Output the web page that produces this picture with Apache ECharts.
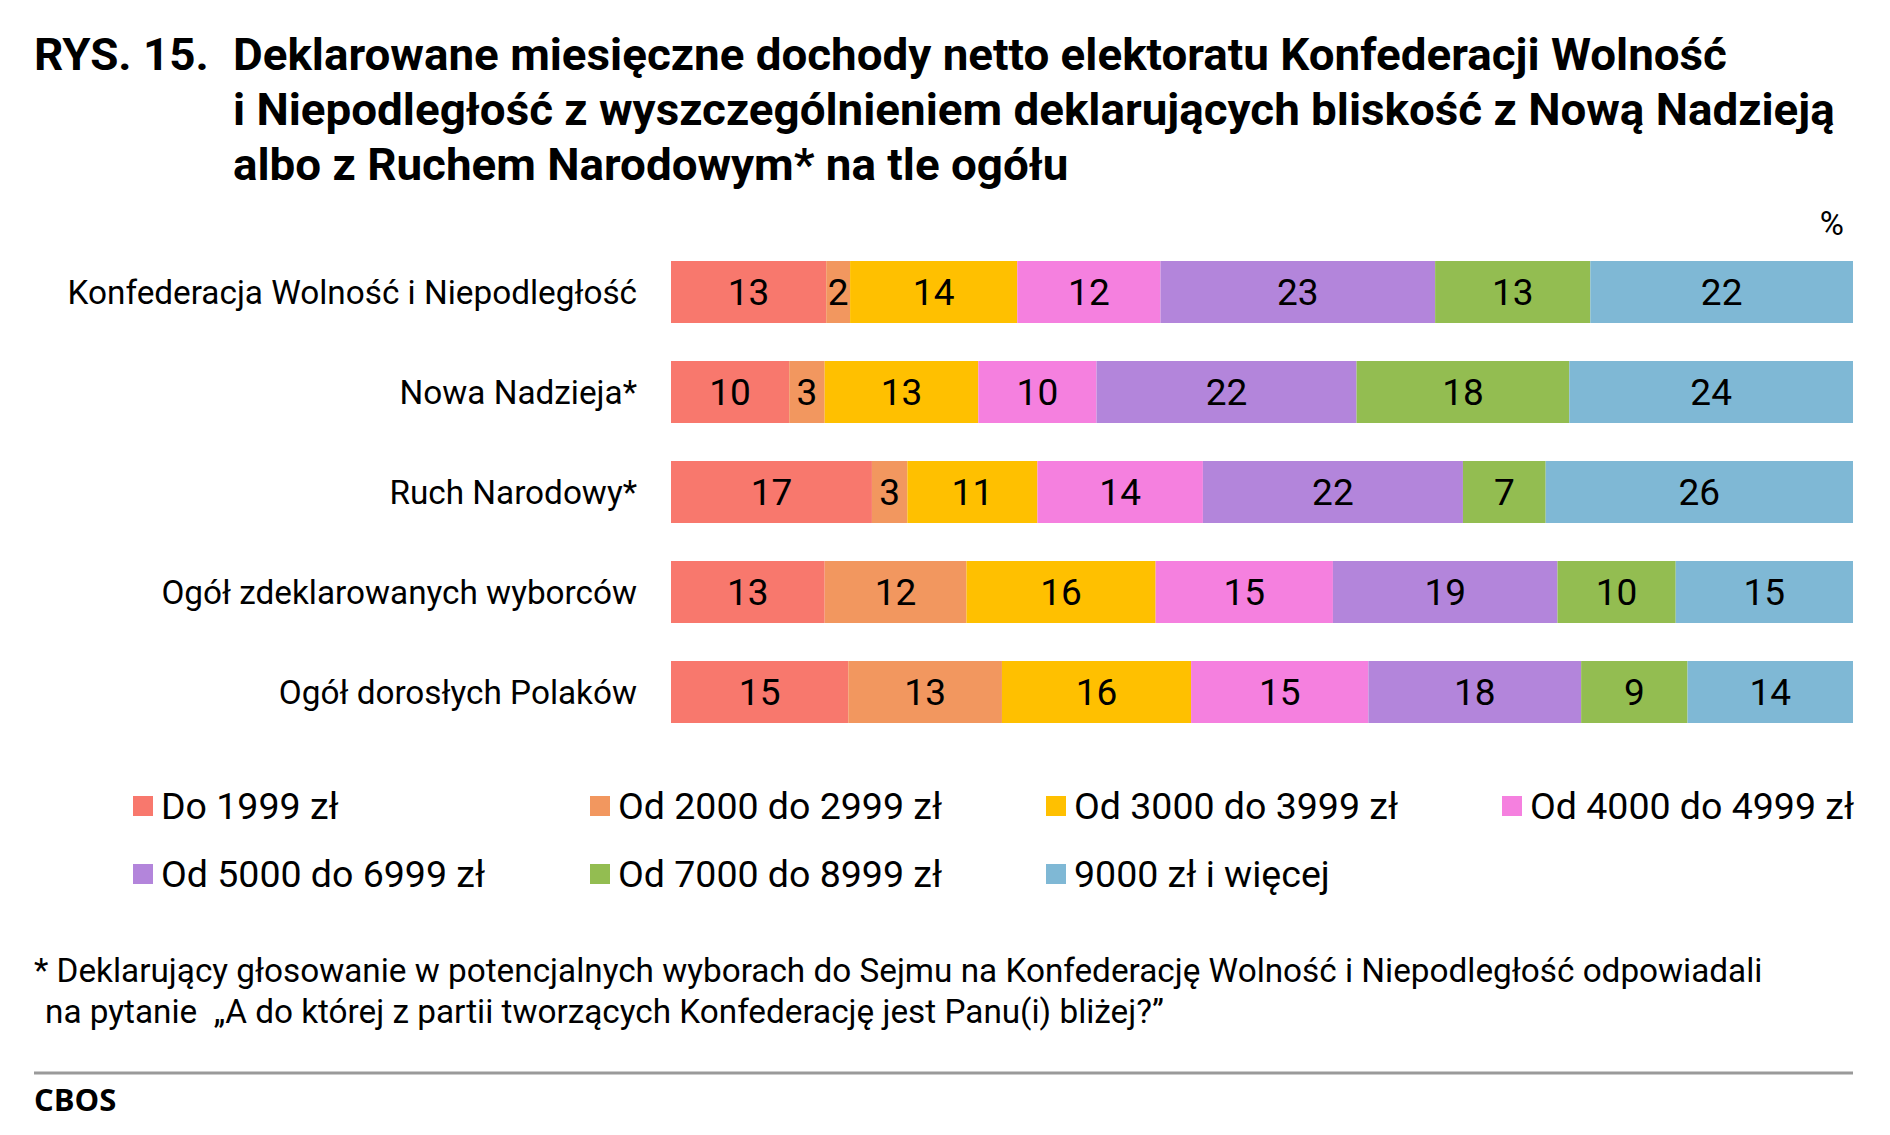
<!DOCTYPE html>
<html>
<head>
<meta charset="utf-8">
<script src="https://cdn.jsdelivr.net/npm/echarts@6/dist/echarts.min.js"></script>
<style>
html,body{margin:0;padding:0;background:#fff;}
#chart{width:1890px;height:1135px;}
</style>
</head>
<body>
<div id="chart"></div>
<script>
// ---- data ----
const categories = [
  'Konfederacja Wolność i Niepodległość',
  'Nowa Nadzieja*',
  'Ruch Narodowy*',
  'Ogół zdeklarowanych wyborców',
  'Ogół dorosłych Polaków'
];
const seriesNames = [
  'Do 1999 zł',
  'Od 2000 do 2999 zł',
  'Od 3000 do 3999 zł',
  'Od 4000 do 4999 zł',
  'Od 5000 do 6999 zł',
  'Od 7000 do 8999 zł',
  '9000 zł i więcej'
];
const do1999   = [13, 10, 17, 13, 15];
const od2000   = [2, 3, 3, 12, 13];
const od3000   = [14, 13, 11, 16, 16];
const od4000   = [12, 10, 14, 15, 15];
const od5000   = [23, 22, 22, 19, 18];
const od7000   = [13, 18, 7, 10, 9];
const od9000   = [22, 24, 26, 15, 14];
const colors = ['#F8786D', '#F2975F', '#FFC000', '#F580DF', '#B385DB', '#93BD51', '#7FB8D5'];

const raw = [do1999, od2000, od3000, od4000, od5000, od7000, od9000];
// each bar fills 100% (rows are shares of a whole)
const rowSums = categories.map((c, i) => raw.reduce((s, arr) => s + arr[i], 0));

const FONT = 'Roboto';

const series = raw.map((arr, si) => ({
  name: seriesNames[si],
  type: 'bar',
  stack: 'total',
  barWidth: 62,
  itemStyle: { color: colors[si] },
  emphasis: { disabled: true },
  label: {
    show: true,
    position: 'inside',
    color: '#000',
    fontFamily: FONT,
    fontSize: 37,
    formatter: p => String(arr[p.dataIndex])
  },
  data: arr.map((v, i) => v / rowSums[i] * 100)
}));

const legendPos = [
  [133, 785], [590, 785], [1046, 785], [1502, 785],
  [133, 853], [590, 853], [1046, 853]
];
const legends = seriesNames.map((n, i) => ({
  data: [n],
  left: legendPos[i][0],
  top: legendPos[i][1],
  padding: 0,
  icon: 'rect',
  itemWidth: 20,
  itemHeight: 20,
  selectedMode: false,
  textStyle: { fontFamily: FONT, fontSize: 37.5, color: '#000', lineHeight: 42, padding: [0, 0, 0, 3] }
}));

const titleFont = 'bold 44px Roboto';
const noteFont = '33.3px Roboto';
const chart = echarts.init(document.getElementById('chart'), null, { renderer: 'svg' });
chart.setOption({
  backgroundColor: '#fff',
  animation: false,
  color: colors,
  grid: { left: 671, right: 37, top: 242, bottom: 393 },
  xAxis: { type: 'value', min: 0, max: 100, show: false },
  yAxis: {
    type: 'category',
    data: categories,
    inverse: true,
    axisLine: { show: false },
    axisTick: { show: false },
    splitLine: { show: false },
    axisLabel: { color: '#000', fontFamily: FONT, fontSize: 33.3, margin: 34 }
  },
  legend: legends,
  series: series,
  graphic: [
    { type: 'text', x: 34, y: 33, scaleX: 1.04, style: { text: 'RYS. 15.', font: titleFont, fill: '#000' } },
    { type: 'text', x: 233, y: 33, scaleX: 1.04, style: { text: 'Deklarowane miesięczne dochody netto elektoratu Konfederacji Wolność', font: titleFont, fill: '#000' } },
    { type: 'text', x: 233, y: 88, scaleX: 1.04, style: { text: 'i Niepodległość z wyszczególnieniem deklarujących bliskość z Nową Nadzieją', font: titleFont, fill: '#000' } },
    { type: 'text', x: 233, y: 143, scaleX: 1.04, style: { text: 'albo z Ruchem Narodowym* na tle ogółu', font: titleFont, fill: '#000' } },
    { type: 'text', right: 46, top: 207, style: { text: '%', font: '33px Roboto', fill: '#000' } },
    { type: 'text', left: 34, top: 954, style: { text: '* Deklarujący głosowanie w potencjalnych wyborach do Sejmu na Konfederację Wolność i Niepodległość odpowiadali', font: noteFont, fill: '#000' } },
    { type: 'text', left: 45, top: 995, style: { text: 'na pytanie  „A do której z partii tworzących Konfederację jest Panu(i) bliżej?”', font: noteFont, fill: '#000' } },
    { type: 'line', shape: { x1: 34, y1: 1073, x2: 1853, y2: 1073 }, style: { stroke: '#9a9a9a', lineWidth: 3 } },
    { type: 'text', left: 34, top: 1083, style: { text: 'CBOS', font: 'bold 31px "Open Sans"', fill: '#000' } }
  ]
});
</script>
</body>
</html>
